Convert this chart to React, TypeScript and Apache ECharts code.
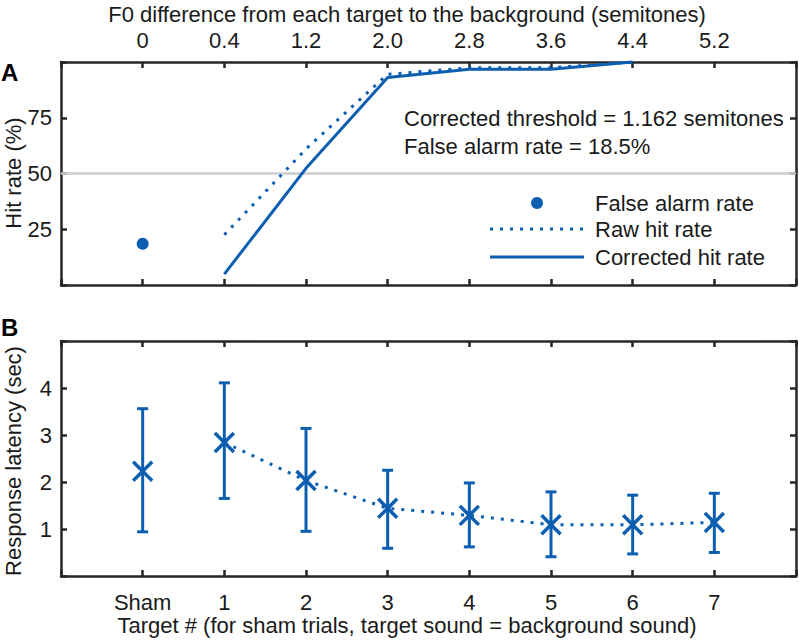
import React, { useEffect, useRef } from "react";
import * as echarts from "echarts";

// ---- Data ----
const xLabelsTop = ["0", "0.4", "1.2", "2.0", "2.8", "3.6", "4.4", "5.2"];
const xLabelsBottom = ["Sham", "1", "2", "3", "4", "5", "6", "7"];
// Panel A (per top category; null = no value)
const falseAlarmRate = [18.5, null, null, null, null, null, null, null];
const rawHitRate = [null, 22.5, 61, 94.5, 97.4, 97.4, 100, null];
const correctedHitRate = [null, 4.9, 52.3, 93, 96.8, 96.8, 100, null];
// Panel B (per bottom category)
const latencyMean = [2.23, 2.84, 2.03, 1.44, 1.29, 1.09, 1.09, 1.14];
const latencyLow = [0.94, 1.65, 0.95, 0.59, 0.62, 0.41, 0.47, 0.5];
const latencyHigh = [3.56, 4.11, 3.14, 2.25, 1.98, 1.79, 1.72, 1.76];
const topYTicks = [25, 50, 75];
const bottomYTicks = [1, 2, 3, 4];

const titleTop = "F0 difference from each target to the background (semitones)";
const titleBottom = "Target # (for sham trials, target sound = background sound)";
const annot1 = "Corrected threshold = 1.162 semitones";
const annot2 = "False alarm rate = 18.5%";

const BLUE = "#0c5fb0";
const DARK = "#262626";
const FONT = "'Liberation Sans', Arial, Helvetica, sans-serif";
const FS = 22;

const toPts = (arr: (number | null)[]) =>
  arr.map((v, i) => (v == null ? null : [i + 1, v])).filter((p) => p !== null) as number[][];

export default function App() {
  const ref = useRef<HTMLDivElement>(null);
  useEffect(() => {
    if (!ref.current) return;
    const chart = echarts.init(ref.current, null, { renderer: "svg" });

    const axisLine = { show: true, onZero: false, lineStyle: { color: DARK, width: 2.5 } };
    const axisTick = { show: true, inside: true, length: 6, lineStyle: { color: DARK, width: 2.5 } };
    const labelFont = { color: "#1a1a1a", fontSize: FS, fontFamily: FONT, lineHeight: 20 };

    const xFmt = (labels: string[]) => (v: number) => {
      const i = Math.round(v) - 1;
      return i >= 0 && i < labels.length ? labels[i] : "";
    };
    const yFmt = (ticks: number[]) => (v: number) => (ticks.includes(v) ? String(v) : "");

    const errData = latencyMean.map((m, i) => [i + 1, m, latencyLow[i], latencyHigh[i]]);
    const latencyLine = latencyMean.slice(1).map((m, i) => [i + 2, m]);

    function txt(align: string) {
      return {
        fill: "#1a1a1a", fontSize: FS, fontFamily: FONT, lineHeight: 20,
        textAlign: align, textVerticalAlign: "middle", verticalAlign: "middle",
      };
    }

    const option: any = {
      animation: false,
      grid: [
        { left: 61, top: 62, width: 736, height: 223 },
        { left: 61, top: 341, width: 736, height: 235 },
      ],
      xAxis: [
        {
          type: "value", gridIndex: 0, position: "top", min: 0, max: 9, interval: 1,
          axisLine, axisTick, splitLine: { show: false },
          axisLabel: { ...labelFont, margin: 12, formatter: xFmt(xLabelsTop) },
        },
        {
          type: "value", gridIndex: 0, position: "bottom", min: 0, max: 9, interval: 1,
          axisLine, axisTick, splitLine: { show: false }, axisLabel: { show: false },
        },
        {
          type: "value", gridIndex: 1, position: "bottom", min: 0, max: 9, interval: 1,
          axisLine, axisTick, splitLine: { show: false },
          axisLabel: { ...labelFont, margin: 16, formatter: xFmt(xLabelsBottom) },
        },
        {
          type: "value", gridIndex: 1, position: "top", min: 0, max: 9, interval: 1,
          axisLine, axisTick, splitLine: { show: false }, axisLabel: { show: false },
        },
      ],
      yAxis: [
        {
          type: "value", gridIndex: 0, position: "left", min: 0, max: 100, interval: 25,
          axisLine, axisTick, splitLine: { show: false },
          axisLabel: { ...labelFont, margin: 9, formatter: yFmt(topYTicks) },
        },
        {
          type: "value", gridIndex: 0, position: "right", min: 0, max: 100, interval: 25,
          axisLine, axisTick, splitLine: { show: false }, axisLabel: { show: false },
        },
        {
          type: "value", gridIndex: 1, position: "left", min: 0, max: 5, interval: 1,
          axisLine, axisTick, splitLine: { show: false },
          axisLabel: { ...labelFont, margin: 9, formatter: yFmt(bottomYTicks) },
        },
        {
          type: "value", gridIndex: 1, position: "right", min: 0, max: 5, interval: 1,
          axisLine, axisTick, splitLine: { show: false }, axisLabel: { show: false },
        },
      ],
      series: [
        {
          type: "line", name: "Corrected hit rate", xAxisIndex: 0, yAxisIndex: 0,
          data: toPts(correctedHitRate), symbol: "none", z: 3,
          lineStyle: { color: BLUE, width: 3 },
          markLine: {
            silent: true, symbol: "none", label: { show: false }, z: 1,
            lineStyle: { color: "#cccccc", width: 2.5, type: "solid" },
            data: [{ yAxis: 50 }],
          },
        },
        {
          type: "line", name: "Raw hit rate", xAxisIndex: 0, yAxisIndex: 0,
          data: toPts(rawHitRate), symbol: "none", z: 3,
          lineStyle: { color: BLUE, width: 3, type: [3, 7], cap: "butt" },
        },
        {
          type: "scatter", name: "False alarm rate", xAxisIndex: 0, yAxisIndex: 0,
          data: toPts(falseAlarmRate), symbol: "circle", symbolSize: 12,
          itemStyle: { color: BLUE, opacity: 1 },
        },
        {
          type: "line", xAxisIndex: 2, yAxisIndex: 2, data: latencyLine, symbol: "none",
          lineStyle: { color: BLUE, width: 3, type: [3, 7], cap: "butt" },
        },
        {
          type: "custom", xAxisIndex: 2, yAxisIndex: 2, data: errData,
          encode: { x: 0, y: [1, 2, 3] },
          renderItem: (_p: any, api: any) => {
            const x = api.value(0);
            const pm = api.coord([x, api.value(1)]);
            const pl = api.coord([x, api.value(2)]);
            const ph = api.coord([x, api.value(3)]);
            const cw = 5.5;
            const xs = 9.5;
            const style = { stroke: BLUE, lineWidth: 3, fill: "none" };
            const xstyle = { stroke: BLUE, lineWidth: 3.5, fill: "none" };
            return {
              type: "group",
              children: [
                { type: "line", shape: { x1: pm[0], y1: pl[1], x2: pm[0], y2: ph[1] }, style },
                { type: "line", shape: { x1: pm[0] - cw, y1: pl[1], x2: pm[0] + cw, y2: pl[1] }, style },
                { type: "line", shape: { x1: pm[0] - cw, y1: ph[1], x2: pm[0] + cw, y2: ph[1] }, style },
                { type: "line", shape: { x1: pm[0] - xs, y1: pm[1] - xs, x2: pm[0] + xs, y2: pm[1] + xs }, style: xstyle },
                { type: "line", shape: { x1: pm[0] - xs, y1: pm[1] + xs, x2: pm[0] + xs, y2: pm[1] - xs }, style: xstyle },
              ],
            };
          },
        },
      ],
      graphic: [
        { type: "text", x: 407, y: 14, style: { text: titleTop, ...txt("center") } },
        { type: "text", x: 407, y: 625, style: { text: titleBottom, ...txt("center") } },
        { type: "text", x: 13, y: 173, rotation: Math.PI / 2, style: { text: "Hit rate (%)", ...txt("center") } },
        { type: "text", x: 13, y: 461, rotation: Math.PI / 2, style: { text: "Response latency (sec)", ...txt("center") } },
        { type: "text", x: 1, y: 72, style: { text: "A", ...txt("left"), fontSize: 24, fontWeight: "bold", fill: "#000" } },
        { type: "text", x: 1, y: 327, style: { text: "B", ...txt("left"), fontSize: 24, fontWeight: "bold", fill: "#000" } },
        { type: "text", x: 404, y: 118, style: { text: annot1, ...txt("left") } },
        { type: "text", x: 404, y: 146, style: { text: annot2, ...txt("left") } },
        // legend
        { type: "circle", shape: { cx: 537, cy: 203, r: 6 }, style: { fill: BLUE } },
        { type: "line", shape: { x1: 490, y1: 229, x2: 584, y2: 229 }, style: { stroke: BLUE, lineWidth: 3, lineDash: [3, 7] } },
        { type: "line", shape: { x1: 490, y1: 257, x2: 584, y2: 257 }, style: { stroke: BLUE, lineWidth: 3 } },
        { type: "text", x: 595, y: 203, style: { text: "False alarm rate", ...txt("left") } },
        { type: "text", x: 595, y: 229, style: { text: "Raw hit rate", ...txt("left") } },
        { type: "text", x: 595, y: 257, style: { text: "Corrected hit rate", ...txt("left") } },
      ],
    };

    chart.setOption(option);
    return () => chart.dispose();
  }, []);

  return (
    <div
      ref={ref}
      style={{ position: "fixed", left: 0, top: 0, width: 799, height: 643, background: "#fff" }}
    />
  );
}
